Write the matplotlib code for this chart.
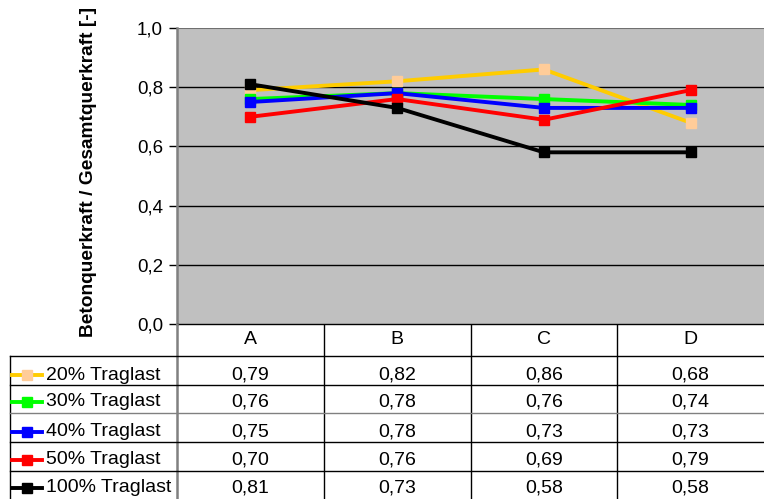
import numpy as np
import matplotlib
matplotlib.use("Agg")
from matplotlib import pyplot as plt
from matplotlib.lines import Line2D

plt.rcParams['font.family'] = ['Liberation Sans', 'DejaVu Sans']

# data
categories = ["A", "B", "C", "D"]
series_names = ["20% Traglast", "30% Traglast", "40% Traglast", "50% Traglast", "100% Traglast"]
v20 = [0.79, 0.82, 0.86, 0.68]
v30 = [0.76, 0.78, 0.76, 0.74]
v40 = [0.75, 0.78, 0.73, 0.73]
v50 = [0.70, 0.76, 0.69, 0.79]
v100 = [0.81, 0.73, 0.58, 0.58]
series_values = [v20, v30, v40, v50, v100]
yticks = [0.0, 0.2, 0.4, 0.6, 0.8, 1.0]

line_colors = ["#FFCC00", "#00FF00", "#0000FF", "#FF0000", "#000000"]
marker_colors = ["#FFCC99", "#00FF00", "#0000FF", "#FF0000", "#000000"]
marker_sizes = [7, 6.5, 7.5, 6.5, 7.5]

W, H = 764, 499
fig = plt.figure(figsize=(W / 100, H / 100), dpi=100)

# plot area in pixels
px_left, px_top, px_bottom = 177, 28, 324
ax = fig.add_axes([px_left / W, (H - px_bottom) / H, (W - px_left) / W, (px_bottom - px_top) / H])
ax.set_facecolor("#C0C0C0")

x = np.arange(len(categories))
for vals, lc, mc, ms in zip(series_values, line_colors, marker_colors, marker_sizes):
    ax.plot(x, vals, '-', color=lc, lw=2.8, marker='s', ms=ms,
            mfc=mc, mec=mc, zorder=3)

ax.set_xlim(-0.5, len(categories) - 0.5)
ax.set_ylim(0, 1.0)
ax.set_yticks(yticks)
ax.set_yticklabels([f"{t:.1f}".replace(".", ",") for t in yticks], fontsize=13.5)
ax.set_xticks([])
for t in yticks[1:-1]:
    ax.axhline(t, color="black", lw=1.0, zorder=1)
ax.axhline(1.0, color="#707070", lw=1.5, zorder=1)
ax.tick_params(axis='y', length=6, width=1, color="black", pad=4)
for s in ["top", "right"]:
    ax.spines[s].set_visible(False)
ax.spines["left"].set_color("#808080")
ax.spines["left"].set_linewidth(1.8)
ax.spines["bottom"].set_color("black")
ax.spines["bottom"].set_linewidth(1.0)
ax.set_ylabel("Betonquerkraft / Gesamtquerkraft [-]", fontsize=13.8, fontweight="bold")
ax.yaxis.set_label_coords(-(px_left - 97) / (W - px_left), 0.515)

# data table below the plot, in pixel-like layout coordinates
tax = fig.add_axes([0, 0, 1, (H - px_bottom) / H])
tax.set_xlim(0, W)
tax.set_ylim(H - px_bottom, 0)
tax.axis('off')

col_w = (W - px_left) / len(categories)
row_lines = [32, 61, 89, 118, 147]
row_text_y = [16, 51, 78, 108, 136, 164]

# vertical lines
tax.plot([px_left, px_left], [0, H - px_bottom], color="#808080", lw=1.8)
for i in range(1, len(categories)):
    xx = px_left + i * col_w
    tax.plot([xx, xx], [0, H - px_bottom], color="black", lw=1.0)
tax.plot([10, 10], [row_lines[0], H - px_bottom], color="black", lw=1.0)
# horizontal lines
for i, yy in enumerate(row_lines):
    c = "#808080" if i == 2 else "black"
    tax.plot([10, W], [yy, yy], color=c, lw=1.0)

# header
for i, cat in enumerate(categories):
    tax.text(px_left + (i + 0.5) * col_w, row_text_y[0], cat, ha="center", va="center", fontsize=14)

# rows
for r, (name, vals) in enumerate(zip(series_names, series_values)):
    yy = row_text_y[r + 1]
    tax.add_line(Line2D([12, 42], [yy, yy], color=line_colors[r], lw=2.8))
    tax.add_line(Line2D([27], [yy], marker='s', ms=6.5, mfc=marker_colors[r],
                        mec=marker_colors[r], ls='none'))
    tax.text(46, yy, name, ha="left", va="center", fontsize=14)
    for i, v in enumerate(vals):
        tax.text(px_left + (i + 0.5) * col_w, yy, f"{v:.2f}".replace(".", ","),
                 ha="center", va="center", fontsize=14)

fig.savefig("out.png", dpi=100)
